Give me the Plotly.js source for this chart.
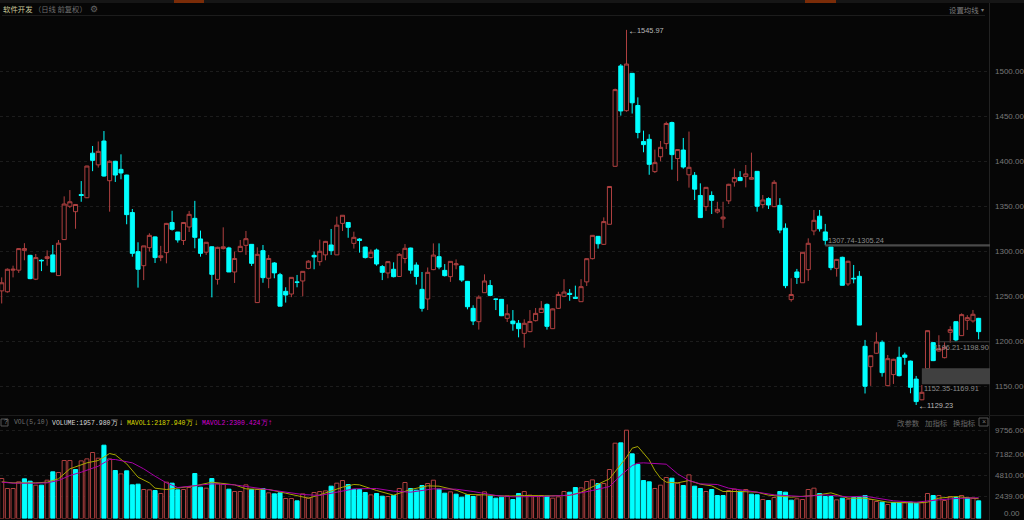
<!DOCTYPE html>
<html><head><meta charset="utf-8">
<script src="https://cdn.plot.ly/plotly-3.0.1.min.js"></script>
<style>html,body{margin:0;padding:0;background:#060606;overflow:hidden}#c{width:1024px;height:520px}</style>
</head><body><div id="c"></div>
<script>
const opens=[1256,1255,1279,1279,1301,1295.5,1269,1290,1292,1296,
1273,1313,1350,1344,1363,1359.5,1409,1396,1422.5,1378.4,
1400,1391,1384.7,1343,1299.6,1284,1304,1316,1293,1298.5,
1332,1321.4,1312,1327,1336.6,1313.7,1299,1305,1268.8,1303,
1303.7,1277,1299.6,1306.6,1307.7,1243,1300.7,1270,1287,1274,
1255.5,1252.5,1266,1267,1281,1295.5,1288.5,1296,1307,1296,
1331,1332,1308.8,1313.6,1304.7,1293,1301.4,1283,1275.9,1280,
1272,1292,1303.6,1284.7,1257.7,1247,1279.6,1294,1278.8,1271.8,
1285,1283.6,1266.6,1236.6,1221.8,1254,1262,1247,1246.6,1225.5,
1222.5,1220,1208.8,1210.7,1222.9,1232,1241,1214,1236.6,1250,
1253.3,1249,1244,1266,1291.8,1316.6,1307.7,1330,1394.4,1505.9,
1456.2,1497.7,1462,1422,1424.4,1388.5,1405,1419.6,1443,1403,
1412.5,1385,1384.4,1362,1349.6,1362,1343.6,1336,1356,1377,
1382,1383,1380,1388.8,1351.8,1358.5,1349.6,1351,1325.6,1246.3,
1277,1265,1279.6,1322.6,1339,1321.5,1304.8,1281,1293.3,1263.7,
1270,1272.2,1194.4,1171.8,1186.7,1198.9,1150.7,1163,1182.2,1184.8,
1178,1158,1135,1169.6,1198.5,1189.2,1181.8,1210,1221.8,1206.3,
1223.3,1222.6,1225.5];
const closes=[1265,1280,1280,1303,1303,1269.6,1293,1289.5,1294,1277,
1309,1352.5,1355,1352,1362,1394.7,1401,1411,1383.6,1400,
1384.7,1387,1340.7,1297.7,1280,1306,1317.7,1293,1295,1331,
1324.4,1312.6,1332,1341,1315.5,1297.7,1310,1274.4,1304.4,1305,
1277,1292,1305.5,1314,1286.6,1296.6,1270.7,1292,1276,1239,
1251.4,1271,1265.5,1277.7,1289,1293.7,1300,1311,1300.7,1329,
1340,1326.6,1315.5,1312,1293,1299,1285.9,1276.6,1288.5,1271.8,
1296.6,1303.3,1279,1272,1236.6,1276.6,1295.8,1282.5,1272.9,1288.8,
1286,1268,1238.4,1222.5,1249,1267,1251,1246.6,1228.4,1230.6,
1219.5,1214,1220,1222,1231,1236.6,1216.6,1236,1252,1254.7,
1252,1247.7,1260.7,1291.8,1317.7,1308.4,1333,1372,1479.6,1455.9,
1508,1465,1432,1418.5,1396.6,1398.5,1415.5,1442,1407.4,1413,
1393.6,1393.3,1369,1337.4,1371,1356.6,1346.6,1338,1374.4,1382,
1378.5,1386,1381.8,1350,1357,1351.4,1376.6,1323.6,1261.8,1252,
1271,1298.9,1308.9,1334.4,1325,1312.2,1281.8,1291,1262.2,1288.9,
1269.5,1218,1150,1184,1199.2,1165.2,1180.7,1180,1161.8,1182.2,
1148.9,1133,1143.3,1211.8,1178.5,1191.8,1193.3,1213,1201.5,1229.6,
1226.3,1230,1210.7];
const highs=[1271,1281,1284,1303.5,1309,1296,1297,1291,1301,1307,
1312.5,1361,1368,1352,1378,1395,1417,1422,1433.6,1401,
1400.5,1407.7,1385,1347,1310,1306,1320,1316.5,1306,1331.5,
1345,1321.5,1332,1344.8,1356,1323,1310,1305.5,1305,1326.6,
1305,1299.6,1312.5,1322.6,1308,1304.4,1307,1296,1288,1276,
1260,1271,1273.7,1278,1290,1299.6,1313,1311.5,1324.8,1338.5,
1340,1332.5,1321.8,1314.5,1305,1302,1303,1284.7,1289,1287.7,
1298,1308,1304,1287.7,1277,1282,1308.8,1308.8,1285.8,1289,
1291,1284,1267,1240,1251,1274.4,1268,1247.5,1247,1241,
1234.7,1223.6,1224.4,1234.7,1237,1244.7,1242,1236.5,1255,1269,
1258,1261.8,1269,1292,1318,1317,1337.7,1372.5,1480.7,1508,
1545.97,1498,1471,1434,1430,1413,1422.5,1444,1444,1413.5,
1425.9,1433,1388,1375.5,1371.5,1366.6,1355,1355,1375,1391.8,
1389,1395.9,1409.6,1389,1362.5,1360,1379,1359,1331,1270,
1280.4,1299,1314.4,1345.9,1345.9,1330.4,1305,1291.5,1294,1289.5,
1284.8,1278,1201.5,1184.5,1210,1201,1184.8,1180.5,1194,1187.4,
1178.5,1161.5,1151.5,1212,1199,1206.7,1198.9,1216.7,1222,1231,
1229,1234.8,1226];
const lows=[1242,1254,1271,1276,1290,1269,1268,1278,1284,1277,
1273,1313,1348,1325,1355,1359,1389,1393,1383,1344,
1377,1380,1330,1294,1259.6,1268,1299.6,1287,1289,1286.6,
1323,1309.6,1307,1321.4,1303.3,1294,1296,1248.8,1263,1302,
1277,1264.8,1299,1296,1283.7,1243,1265,1259,1270,1239,
1243,1249,1260,1250,1280,1280,1284,1290,1296,1296,
1322.5,1315,1303,1298.5,1292,1292,1284,1268,1270,1271,
1272,1286.6,1275,1263,1233,1234.7,1279,1280,1272,1266,
1280,1266,1235.5,1218,1213,1254,1250,1234.7,1228,1221.4,
1211.8,1204.4,1192.9,1210,1222,1232,1213,1214,1236,1249,
1245,1247,1244,1261.4,1291,1303,1307,1330,1394,1450.7,
1455,1453,1425.5,1410,1385,1387,1400,1413.6,1390.7,1378,
1391.8,1370.7,1357,1337,1344.8,1341.4,1342,1326,1352.5,1371.8,
1378,1371,1379.5,1344,1347.7,1347,1349,1320,1259,1244,
1263.7,1265,1267,1317.8,1321.9,1306.7,1279,1271.8,1262,1261.5,
1264.4,1218,1142,1150.4,1186,1160.7,1150,1152.6,1161,1174,
1142.2,1129.23,1134.5,1169,1178,1188.5,1181,1198.5,1199.6,1206,
1212.6,1220.7,1202.2];
const volumes=[4434,3326,3326,4065,4397,4138,3695,3695,4249,5173,
5099,6429,6429,5432,6392,6614,7316,6688,8129,6614,
5321,4951,5284,3732,3806,3215,3178,3104,2771,4028,
3917,3178,3215,3436,4988,3473,3362,4434,3880,3806,
3252,2993,2993,3732,3215,3215,3326,2845,2734,2845,
2217,2217,1958,2734,2254,2882,2993,3067,3584,3917,
4212,3769,3215,3215,2882,2623,2771,2476,2439,2550,
3326,3991,3326,3141,3658,3880,4249,3252,2808,2956,
2697,2365,2623,2439,2587,2956,2476,2254,2365,2513,
2106,2771,2993,2587,2513,2550,2476,2254,2402,2993,
2919,3436,3399,4101,4286,3880,3880,5432,8351,8388,
9792,7168,5986,4212,4065,3326,3695,4545,4471,3917,
3658,4840,3584,3326,2993,3215,2550,2550,3104,3252,
3030,3215,2697,2623,2106,1995,2328,2993,2919,2032,
2180,2106,3215,3362,2771,2439,2439,2069,2254,2143,
2328,2328,2550,2106,1884,1811,1552,1774,1774,1737,
1811,1700,1737,2771,2550,2550,1995,2439,2328,2550,
2254,2254,1958];
const volRise=[1,1,1,1,0,0,1,0,1,0,
1,1,1,0,1,1,1,1,0,1,
0,1,0,0,0,1,1,0,1,1,
0,0,1,1,0,0,1,0,1,1,
0,1,1,1,0,1,0,1,0,0,
1,1,0,1,1,1,1,1,0,1,
1,0,0,0,0,1,0,0,1,0,
1,1,0,0,0,1,1,0,0,1,
0,0,0,0,1,1,0,0,0,1,
0,0,1,1,1,1,0,1,1,1,
0,0,1,1,1,0,1,1,1,0,
1,0,0,0,0,1,1,1,0,1,
0,1,0,0,1,0,0,0,1,1,
0,1,0,0,1,0,1,0,0,0,
1,1,1,1,0,0,0,1,0,1,
0,0,0,1,1,0,1,0,0,1,
0,0,1,1,0,1,1,1,0,1,
0,1,0];
const ma5Idx=[0,2,6,8,10,12,15,17,19,20,22,24,26,27,29,31,34,37,41,43,47,50,53,54,56,59,60,62,63,66,69,72,75,77,80,82,85,89,92,96,100,102,105,107,110,111,112,114,115,116,117,119,121,123,125,127,130,133,135,139,143,146,149,152,156,161,163,165,168,172];
const ma5Val=[4065,3954,3954,4028,4397,5506,6171,6429,7205,7057,6060,4582,3954,3362,3215,3362,3621,4028,3732,3289,3215,2808,2365,2254,2623,3215,3473,3769,3732,3104,2587,3215,3621,3584,3141,2660,2623,2476,2550,2513,2550,2919,3843,4397,6799,7796,7981,6503,5321,4471,4028,3954,4212,3806,3621,2993,2993,2919,2587,2365,2550,2845,2254,2254,1811,1737,1811,2254,2439,2188];
const ma10Idx=[0,2,6,8,10,12,14,17,19,20,23,25,27,29,31,34,37,41,44,48,53,56,59,62,66,69,72,76,80,83,87,90,95,100,104,107,109,111,112,113,117,119,121,123,126,128,133,136,141,145,149,152,157,161,165,168,172];
const ma10Val=[4028,3917,3917,3954,4212,4767,5136,5801,6540,6540,6171,5506,4693,3954,3436,3658,3843,3732,3473,3141,2660,2550,2882,3289,3326,3030,2919,3289,3252,2993,2550,2402,2439,2587,3104,3547,4767,5875,6134,6171,6023,4951,4212,3843,3769,3362,2919,2623,2439,2623,2402,2476,1958,1811,2069,2217,2300];
const priceTicks=[1150,1200,1250,1300,1350,1400,1450,1500];
const priceTickText=['1150.00','1200.00','1250.00','1300.00','1350.00','1400.00','1450.00','1500.00'];
const volTicks=[2439,4810,7182,9756];
const volTickText=['2439.00','4810.00','7182.00','9756.00'];
const zones=[{a:1305.24,b:1307.74,from:145,c:'#4a4a4a'},{a:1198.9,b:1199.9,from:165,c:'#3a3a3a'},{a:1152.35,b:1169.91,from:162,c:'#404040'}];

const W=1024,H=520,BG='#060606',RED='#b04040',CY='#00ffff';
const px=x=>x/W, py=y=>1-y/H;
const idx=opens.map((_,i)=>i);
const shapes=[];
function rectP(x0,y0,x1,y1,c){shapes.push({type:'rect',xref:'paper',yref:'paper',x0:px(x0),x1:px(x1),y0:py(y0),y1:py(y1),fillcolor:c,line:{width:0},layer:'below'});}
rectP(0,0,1024,3,'#161616');rectP(174,0,204,3,'#7a2c08');rectP(805,0,836,3,'#7a2c08');
rectP(2,15,985,16,'#1c1c1c');
rectP(989,3,990,520,'#222222');
rectP(0,415,1024,416,'#1c1c1c');
zones.forEach(z=>shapes.push({type:'rect',xref:'x',yref:'y',x0:z.from,x1:174,y0:z.a,y1:z.b,fillcolor:z.c,line:{width:0},layer:'above'}));
rectP(1,419,8,426,'rgba(0,0,0,0)');shapes[shapes.length-1].line={width:1,color:'#555'};
rectP(979,418,988,426,'rgba(0,0,0,0)');shapes[shapes.length-1].line={width:1,color:'#555'};

const M='"Liberation Mono","DejaVu Sans Mono",monospace',C='"Noto Sans CJK SC","Noto Sans",sans-serif',S='"Liberation Sans",sans-serif';
const annotations=[];
function note(t,x,y,color,size,fam,anchor){annotations.push({text:t,xref:'paper',yref:'paper',x:px(x),y:py(y),xanchor:anchor||'left',yanchor:'middle',showarrow:false,borderpad:0,font:{color:color,size:size,family:fam}});}
note('软件开发',1.5,8.5,'#c8c89a',7.4,C);
note('（日线 前复权）',33,8.5,'#6e6e6e',7.3,C);
note('⚙',89,8.5,'#666',9,C);
note('设置均线',948,9,'#7d7d7d',7.4,C);
note('▾',980,9,'#7d7d7d',6,C);
note('←',627,30,'#d0d0d0',10,S);
note('1545.97',636,30,'#b8b8b8',7.4,S);
note('←',917,405,'#d0d0d0',10,S);
note('1129.23',926,405,'#b8b8b8',7.4,S);
note('1307.74-1305.24',827,240,'#8c8c8c',7.4,S);
note('1196.21-1198.90',933,347.5,'#8c8c8c',7.4,S);
note('1152.35-1169.91',923,388.5,'#8c8c8c',7.4,S);
note('?',2.5,422.5,'#888',6.5,M);
note('VOL(5,10)',13,422.5,'#707070',6.4,M);
note('VOLUME:1957.980万',51,422.5,'#d8d8d8',6.5,M);
note('↓',118,422.5,'#d8d8d8',8,S);
note('MAVOL1:2187.940万',126,422.5,'#d8d800',6.5,M);
note('↓',192.5,422.5,'#d8d800',8,S);
note('MAVOL2:2300.424万',200.5,422.5,'#d000d0',6.5,M);
note('↑',267,422.5,'#d000d0',8,S);
note('改参数',896,422,'#6a6a6a',7.4,C);
note('加指标',924,422,'#6a6a6a',7.4,C);
note('换指标',952,422,'#6a6a6a',7.4,C);
note('×',981,422,'#777',7,M);
note('0.00',1021,513,'#777777',8,S,'right');

const traces=[
{type:'candlestick',x:idx,open:opens,high:highs,low:lows,close:closes,xaxis:'x',yaxis:'y',
 increasing:{line:{color:RED,width:1},fillcolor:BG},decreasing:{line:{color:CY,width:1},fillcolor:CY},whiskerwidth:0,hoverinfo:'skip'},
{type:'bar',x:idx,y:volumes,xaxis:'x',yaxis:'y2',width:0.72,
 marker:{color:volRise.map(r=>r?BG:CY),line:{color:volRise.map(r=>r?RED:CY),width:1}},hoverinfo:'skip'},
{type:'scatter',mode:'lines',x:ma5Idx,y:ma5Val,xaxis:'x',yaxis:'y2',line:{color:'#a8a800',width:1},hoverinfo:'skip'},
{type:'scatter',mode:'lines',x:ma10Idx,y:ma10Val,xaxis:'x',yaxis:'y2',line:{color:'#a800a8',width:1},hoverinfo:'skip'}
];
const tickFont={color:'#777777',size:8,family:S};
const grid={showgrid:true,gridcolor:'#1c1c1c',griddash:'dot',gridwidth:1,zeroline:false,showline:false,ticks:'',side:'right',fixedrange:true,tickmode:'array',tickfont:tickFont,ticklabelstandoff:4};
const layout={width:W,height:H,margin:{l:0,r:0,t:0,b:0,pad:0},paper_bgcolor:BG,plot_bgcolor:BG,showlegend:false,dragmode:false,
 boxgap:0.28,boxgroupgap:0,
 xaxis:{domain:[0,990/W],range:[-0.3,174],visible:false,fixedrange:true,rangeslider:{visible:false},type:'linear'},
 yaxis:Object.assign({},grid,{domain:[py(415),py(16)],range:[1118.1,1561.4],tickvals:priceTicks,ticktext:priceTickText,anchor:'x'}),
 yaxis2:Object.assign({},grid,{domain:[py(518.5),py(416)],range:[0,11367],tickvals:volTicks,ticktext:volTickText,anchor:'x'}),
 shapes:shapes,annotations:annotations};
Plotly.newPlot('c',traces,layout,{displayModeBar:false,staticPlot:true});
</script></body></html>
